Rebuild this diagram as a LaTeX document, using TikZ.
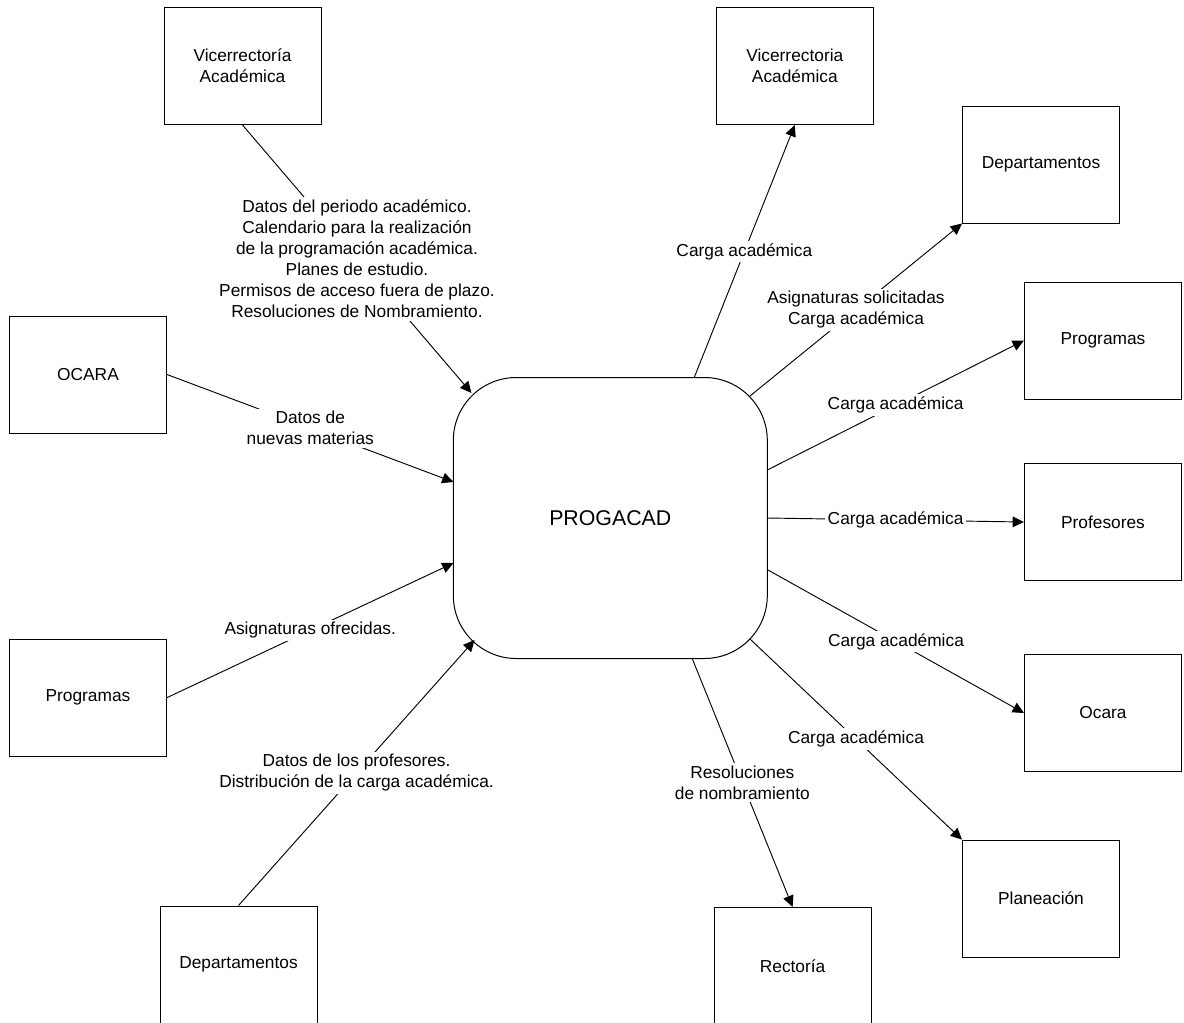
\documentclass[tikz,border=0pt]{standalone}
\usepackage{fontspec}
\setmainfont{Liberation Sans}
\usetikzlibrary{arrows.meta}
\begin{document}
\begin{tikzpicture}[x=0.75pt,y=-0.75pt,
  ent/.style={draw, line width=0.75pt, minimum width=117.75pt, minimum height=87.75pt, inner sep=0pt, align=center, font=\fontsize{13}{15.75}\selectfont},
  proc/.style={draw, line width=0.75pt, rounded corners=47.25pt, minimum width=235.5pt, minimum height=210.75pt, inner sep=0pt, font=\fontsize{16}{19}\selectfont},
  flow/.style={line width=0.7pt, -{Triangle[length=8.5pt,width=8pt]}},
  lbl/.style={fill=white, inner sep=2pt, align=center, font=\fontsize{13}{15.75}\selectfont}]
\useasboundingbox (0,0) rectangle (1184,1022);

% central process
\node[proc] (pg) at (610.3,518) {PROGACAD};

% external entities
\node[ent] (val)   at (242.5,66)   {Vicerrectoría\\Académica};
\node[ent] (ocl)   at (88,374.5)   {OCARA};
\node[ent] (prl)   at (88,697.6)   {Programas};
\node[ent] (dpl)   at (238.5,964.5){Departamentos};
\node[ent] (var)   at (794.8,66)   {Vicerrectoria\\Académica};
\node[ent] (dpr)   at (1041,164.5) {Departamentos};
\node[ent] (prr)   at (1103,340.5) {Programas};
\node[ent] (prof)  at (1103,522)   {Profesores};
\node[ent] (ocr)   at (1103,713)   {Ocara};
\node[ent] (plan)  at (1041,898.6) {Planeación};
\node[ent] (rect)  at (792.6,966)  {Rectoría};

% attachment points on the process border
\coordinate (pA) at (471.5,393);
\coordinate (pB) at (453.5,482);
\coordinate (pC) at (453.5,563);
\coordinate (pD) at (474.6,640);
\coordinate (pE) at (694,378);
\coordinate (pF) at (750,396);
\coordinate (pG) at (767.3,470);
\coordinate (pH) at (767.3,518);
\coordinate (pI) at (768,570);
\coordinate (pJ) at (750,639);
\coordinate (pK) at (692,658);

% incoming flows
\draw[flow] (val.south) -- node[lbl] {Datos del periodo académico.\\Calendario para la realización\\de la programación académica.\\Planes de estudio.\\Permisos de acceso fuera de plazo.\\Resoluciones de Nombramiento.} (pA);
\draw[flow] (ocl.east) -- node[lbl] {Datos de\\nuevas materias} (pB);
\draw[flow] (prl.east) -- node[lbl] {Asignaturas ofrecidas.} (pC);
\draw[flow] (dpl.north) -- node[lbl] {Datos de los profesores.\\Distribución de la carga académica.} (pD);

% outgoing flows
\draw[flow] (pE) -- node[lbl] {Carga académica} (var.south);
\draw[flow] (pF) -- node[lbl] {Asignaturas solicitadas\\Carga académica} (dpr.south west);
\draw[flow] (pG) -- node[lbl] {Carga académica} (prr.west);
\draw[flow] (pH) -- node[lbl] {Carga académica} (prof.west);
\draw[flow] (pI) -- node[lbl] {Carga académica} (ocr.west);
\draw[flow] (pJ) -- node[lbl] {Carga académica} (plan.north west);
\draw[flow] (pK) -- node[lbl] {Resoluciones\\de nombramiento} (rect.north);
\end{tikzpicture}
\end{document}
